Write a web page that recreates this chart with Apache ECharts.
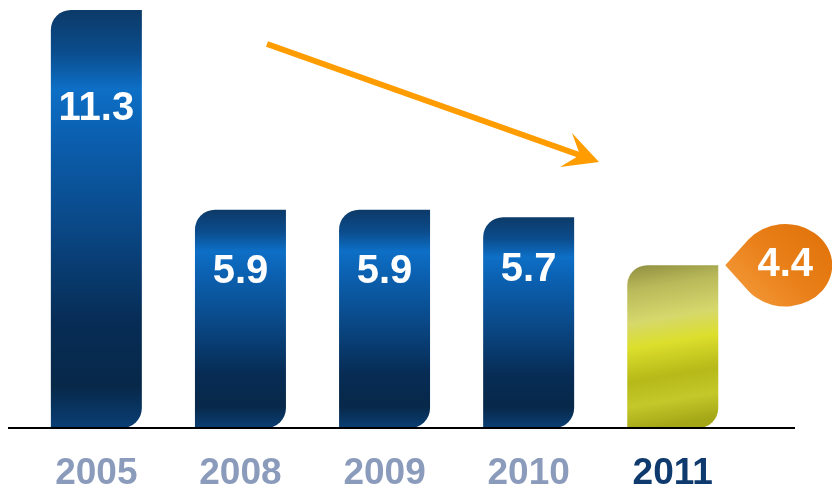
<!DOCTYPE html>
<html>
<head>
<meta charset="utf-8">
<script src="https://cdn.jsdelivr.net/npm/echarts@6/dist/echarts.min.js"></script>
<style>
  html, body { margin: 0; padding: 0; background: #ffffff; }
  #chart { width: 832px; height: 492px; }
</style>
</head>
<body>
<div id="chart"></div>
<script>
// Yearly values
const years = ['2005', '2008', '2009', '2010', '2011'];
const values = [11.3, 5.9, 5.9, 5.7, 4.4];
// Distance of each value label below its bar top (px)
const labelDrop = [99, 62, 62, 53, 0];

const FONT = '"Liberation Sans", Arial, sans-serif';

const blueFill = {
  type: 'linear', x: 0, y: 0, x2: 0, y2: 1,
  colorStops: [
    { offset: 0.0, color: '#0c3a68' },
    { offset: 0.1, color: '#0b4c8c' },
    { offset: 0.19, color: '#0d6fc6' },
    { offset: 0.3, color: '#0b60b0' },
    { offset: 0.5, color: '#0a4a8a' },
    { offset: 0.75, color: '#072c55' },
    { offset: 0.9, color: '#072849' },
    { offset: 1.0, color: '#0a3f75' }
  ]
};
const goldFill = {
  type: 'linear', x: 0, y: 0, x2: 0.3, y2: 1,
  colorStops: [
    { offset: 0.0, color: '#8f8e40' },
    { offset: 0.15, color: '#b9b95a' },
    { offset: 0.35, color: '#d6d86c' },
    { offset: 0.5, color: '#dcdf2c' },
    { offset: 0.7, color: '#b6b918' },
    { offset: 0.85, color: '#c4c82a' },
    { offset: 1.0, color: '#a4a716' }
  ]
};

const barData = values.map((v, i) => {
  const last = i === values.length - 1;
  return {
    value: v,
    itemStyle: { color: last ? goldFill : blueFill },
    label: last ? { show: false } : {
      show: true,
      position: ['50%', labelDrop[i]],
      align: 'center',
      verticalAlign: 'middle'
    }
  };
});

const chart = echarts.init(document.getElementById('chart'), null, { renderer: 'canvas' });

chart.setOption({
  animation: false,
  backgroundColor: '#ffffff',
  grid: { left: 24.3, right: 87.2, top: 10, bottom: 57, containLabel: false },
  xAxis: {
    type: 'category',
    data: years.map((y, i) => ({
      value: y,
      textStyle: { color: i === years.length - 1 ? '#0f3a6e' : '#8b9bbb' }
    })),
    axisLine: { show: false },
    axisTick: { show: false },
    axisLabel: {
      fontFamily: FONT, fontWeight: 'bold', fontSize: 37, margin: 27
    }
  },
  yAxis: {
    type: 'value', min: 0, max: 11.3,
    show: false, splitLine: { show: false }
  },
  series: [{
    type: 'bar',
    data: barData,
    barWidth: 91,
    itemStyle: { borderRadius: [20, 0, 20, 0] },
    label: {
      color: '#ffffff', fontFamily: FONT, fontWeight: 'bold', fontSize: 40,
      formatter: p => p.value.toFixed(1)
    },
    markPoint: {
      silent: true,
      data: [{
        coord: [years[4], values[4]],
        value: values[4],
        symbol: 'path://M-60 0 L-36.8 -29.2 A47 47 0 1 1 -36.8 29.2 Z',
        symbolSize: [107, 94],
        symbolKeepAspect: true,
        symbolOffset: [106, 0],
        itemStyle: {
          color: {
            type: 'linear', x: 0, y: 1, x2: 1, y2: 0,
            colorStops: [
              { offset: 0, color: '#f6a040' },
              { offset: 0.5, color: '#e9801a' },
              { offset: 1, color: '#e07006' }
            ]
          }
        },
        label: {
          show: true,
          offset: [6.5, 0],
          color: '#ffffff', fontFamily: FONT, fontWeight: 'bold', fontSize: 40,
          formatter: p => Number(p.value).toFixed(1)
        }
      }]
    }
  }]
});

// Baseline and the downward trend arrow
const baseY = chart.convertToPixel({ yAxisIndex: 0 }, 0);
chart.setOption({
  graphic: [
    {
      type: 'line', z: 10,
      shape: { x1: 8, y1: baseY, x2: 795, y2: baseY },
      style: { stroke: '#000000', lineWidth: 2 }
    },
    {
      type: 'line', z: 10,
      shape: { x1: 267, y1: 44, x2: 585, y2: 157 },
      style: { stroke: '#ff9d00', lineWidth: 6 }
    },
    {
      type: 'polygon', z: 10,
      shape: { points: [[599, 162], [572, 133], [580, 155], [560, 167]] },
      style: { fill: '#ff9d00' }
    }
  ]
});
</script>
</body>
</html>
